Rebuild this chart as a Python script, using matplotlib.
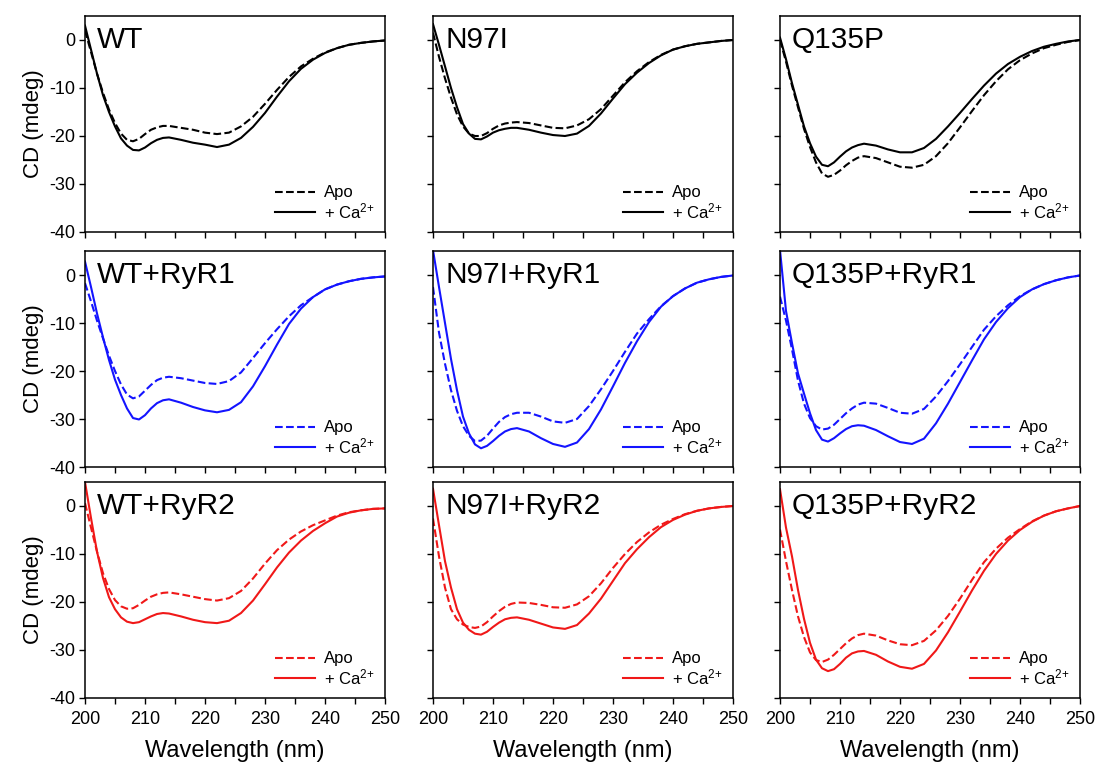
import matplotlib
matplotlib.use("Agg")
import matplotlib.pyplot as plt
from matplotlib.ticker import MultipleLocator

plt.rcParams["font.family"] = ["Liberation Sans", "DejaVu Sans"]
plt.rcParams["mathtext.default"] = "regular"
plt.rcParams["axes.unicode_minus"] = False

# wavelength grid (nm) shared by every spectrum
wl = [200, 201, 202, 203, 204, 205, 206, 207, 208, 209, 210, 211, 212, 213, 214,
      216, 218, 220, 222, 224, 226, 228, 230, 232, 234, 236, 238, 240, 242, 244,
      246, 248, 250]

# CD (mdeg), Apo (dashed) and +Ca2+ (solid)
wt_apo = [2.0, -2.5, -7.0, -11.0, -14.5, -17.3, -19.5, -20.8, -21.1, -20.6, -19.6, -18.7, -18.2, -17.9, -17.9,
          -18.3, -18.7, -19.3, -19.6, -19.3, -18.0, -16.0, -13.3, -10.4, -7.7, -5.5, -3.9, -2.6, -1.7, -1.0,
          -0.6, -0.3, -0.1]
wt_ca = [3.0, -2.0, -7.0, -11.5, -15.0, -18.0, -20.5, -22.0, -22.9, -23.0, -22.4, -21.5, -20.8, -20.4, -20.3,
         -20.8, -21.4, -21.8, -22.3, -21.8, -20.4, -18.1, -15.2, -11.8, -8.6, -6.0, -4.1, -2.7, -1.7, -1.0,
         -0.6, -0.3, -0.1]
n97i_apo = [1.5, -3.5, -8.0, -12.0, -15.5, -18.0, -19.5, -20.0, -20.0, -19.4, -18.5, -17.8, -17.4, -17.2, -17.1,
            -17.3, -17.8, -18.3, -18.4, -17.8, -16.5, -14.4, -11.6, -8.8, -6.5, -4.6, -3.1, -2.0, -1.3, -0.8,
            -0.5, -0.2, 0.0]
n97i_ca = [3.3, -1.0, -5.5, -10.0, -14.0, -17.5, -19.5, -20.6, -20.7, -20.1, -19.3, -18.8, -18.5, -18.3, -18.3,
           -18.7, -19.3, -19.8, -20.0, -19.5, -17.9, -15.3, -12.2, -9.2, -6.8, -4.8, -3.2, -2.0, -1.3, -0.8,
           -0.5, -0.2, 0.0]
q135p_apo = [0.0, -4.5, -9.5, -14.0, -18.5, -22.3, -25.5, -27.8, -28.5, -28.1, -27.2, -26.1, -25.2, -24.5, -24.2,
             -24.6, -25.5, -26.4, -26.6, -26.0, -24.2, -21.5, -18.2, -14.8, -11.5, -8.6, -6.1, -4.2, -2.8, -1.7,
             -1.0, -0.4, 0.0]
q135p_ca = [0.5, -4.0, -9.0, -13.5, -18.0, -21.5, -24.3, -26.0, -26.3, -25.5, -24.3, -23.2, -22.4, -21.9, -21.6,
            -22.0, -22.8, -23.4, -23.4, -22.5, -20.6, -18.0, -15.2, -12.3, -9.5, -7.0, -5.0, -3.5, -2.3, -1.4,
            -0.8, -0.3, 0.0]

wt_r1_apo = [-1.7, -5.5, -9.5, -13.2, -16.8, -20.0, -22.8, -24.9, -25.7, -25.3, -24.1, -22.9, -21.9, -21.4, -21.2,
             -21.5, -22.0, -22.5, -22.7, -22.1, -20.3, -17.3, -14.2, -11.3, -8.6, -6.3, -4.6, -3.0, -2.0, -1.3,
             -0.8, -0.5, -0.3]
wt_r1_ca = [2.8, -2.5, -8.0, -13.0, -17.7, -21.8, -25.0, -27.8, -29.8, -30.1, -29.2, -27.8, -26.7, -26.1, -25.9,
            -26.6, -27.5, -28.2, -28.6, -28.1, -26.5, -23.2, -19.0, -14.5, -10.2, -7.0, -4.6, -3.0, -2.0, -1.3,
            -0.8, -0.5, -0.3]
n97i_r1_apo = [-2.5, -12.0, -18.5, -24.0, -28.3, -31.5, -33.5, -34.6, -34.5, -33.5, -32.0, -30.6, -29.6, -29.0, -28.7,
               -28.7, -29.5, -30.5, -30.8, -30.0, -27.3, -23.8, -20.0, -16.0, -12.2, -9.2, -6.5, -4.4, -2.8, -1.6,
               -0.9, -0.4, -0.1]
n97i_r1_ca = [5.2, -2.5, -10.0, -17.5, -24.0, -29.5, -33.0, -35.3, -36.1, -35.6, -34.6, -33.5, -32.6, -32.1, -31.9,
              -32.6, -34.0, -35.2, -35.8, -34.9, -32.1, -28.0, -23.2, -18.3, -13.8, -9.8, -6.6, -4.4, -2.8, -1.6,
              -0.9, -0.4, -0.1]
q135p_r1_apo = [-4.5, -9.5, -15.5, -22.0, -26.8, -29.8, -31.5, -32.2, -32.0, -31.2, -30.0, -28.8, -27.8, -27.0, -26.6,
                -26.8, -27.7, -28.7, -28.9, -27.9, -25.3, -22.1, -18.6, -15.0, -11.4, -8.6, -6.3, -4.4, -3.0, -1.9,
                -1.1, -0.5, -0.1]
q135p_r1_ca = [5.2, -7.5, -14.2, -20.5, -24.7, -28.8, -32.3, -34.3, -34.7, -34.0, -33.0, -32.1, -31.5, -31.3, -31.4,
               -32.3, -33.6, -34.8, -35.2, -34.1, -30.9, -26.8, -22.3, -17.8, -13.4, -9.8, -6.9, -4.6, -3.0, -1.9,
               -1.1, -0.5, -0.1]

wt_r2_apo = [0.6, -4.5, -9.5, -14.0, -17.3, -19.6, -20.9, -21.4, -21.3, -20.6, -19.7, -18.9, -18.4, -18.1, -18.0,
             -18.4, -18.9, -19.4, -19.7, -19.2, -17.7, -15.1, -12.0, -9.2, -7.0, -5.3, -4.0, -3.0, -2.0, -1.3,
             -0.9, -0.6, -0.5]
wt_r2_ca = [5.0, -2.5, -9.5, -15.0, -19.0, -21.5, -23.2, -24.1, -24.4, -24.2, -23.6, -23.0, -22.5, -22.3, -22.4,
            -23.0, -23.7, -24.2, -24.4, -23.9, -22.3, -19.7, -16.3, -12.8, -9.7, -7.2, -5.2, -3.6, -2.2, -1.4,
            -0.9, -0.6, -0.5]
n97i_r2_apo = [-2.6, -10.5, -17.0, -21.5, -23.6, -24.7, -25.2, -25.4, -25.1, -24.2, -23.0, -21.9, -21.0, -20.4, -20.1,
               -20.2, -20.6, -21.1, -21.2, -20.5, -18.8, -16.1, -12.9, -10.0, -7.5, -5.5, -3.9, -2.7, -1.7, -1.0,
               -0.5, -0.2, 0.0]
n97i_r2_ca = [3.6, -4.0, -11.5, -17.0, -21.5, -24.3, -25.8, -26.6, -26.8, -26.2, -25.2, -24.3, -23.6, -23.3, -23.2,
              -23.7, -24.5, -25.3, -25.6, -24.8, -22.4, -19.3, -15.6, -11.9, -9.0, -6.5, -4.4, -2.9, -1.8, -1.0,
              -0.5, -0.2, 0.0]
q135p_r2_apo = [-4.9, -11.5, -17.5, -23.0, -27.3, -30.5, -32.1, -32.5, -32.0, -31.0, -29.8, -28.6, -27.6, -26.9, -26.6,
                -27.0, -28.0, -28.8, -29.0, -28.1, -25.9, -22.9, -19.3, -15.4, -11.7, -8.9, -6.6, -4.8, -3.2, -2.0,
                -1.1, -0.5, 0.0]
q135p_r2_ca = [3.5, -4.5, -10.5, -17.5, -23.5, -28.5, -32.0, -33.8, -34.4, -34.0, -32.9, -31.6, -30.7, -30.3, -30.2,
               -31.0, -32.4, -33.5, -33.9, -32.9, -30.1, -26.3, -22.0, -17.6, -13.5, -10.0, -7.2, -5.0, -3.3, -2.0,
               -1.1, -0.5, 0.0]

panel_titles = [["WT", "N97I", "Q135P"],
                ["WT+RyR1", "N97I+RyR1", "Q135P+RyR1"],
                ["WT+RyR2", "N97I+RyR2", "Q135P+RyR2"]]
panel_data = [[(wt_apo, wt_ca), (n97i_apo, n97i_ca), (q135p_apo, q135p_ca)],
              [(wt_r1_apo, wt_r1_ca), (n97i_r1_apo, n97i_r1_ca), (q135p_r1_apo, q135p_r1_ca)],
              [(wt_r2_apo, wt_r2_ca), (n97i_r2_apo, n97i_r2_ca), (q135p_r2_apo, q135p_r2_ca)]]
row_colors = ["black", "#1414ff", "#f01818"]

W, H = 1097, 765
fig = plt.figure(figsize=(W / 100, H / 100), dpi=100)

col_left = [85, 433, 780]
col_width = 300
row_top = [16, 251, 482]
row_height = 216

for r in range(3):
    for c in range(3):
        ax = fig.add_axes([col_left[c] / W, 1 - (row_top[r] + row_height) / H,
                           col_width / W, row_height / H])
        apo, ca = panel_data[r][c]
        color = row_colors[r]
        ax.plot(wl, apo, color=color, lw=1.5, ls="--", label="Apo")
        ax.plot(wl, ca, color=color, lw=1.5, ls="-", label="+ Ca$^{2{+}}$")
        ax.set_xlim(200, 250)
        ax.set_ylim(-40, 5)
        ax.xaxis.set_major_locator(MultipleLocator(10))
        ax.xaxis.set_minor_locator(MultipleLocator(5))
        ax.set_yticks([0, -10, -20, -30, -40])
        ax.tick_params(which="both", direction="out", length=4, width=1.0,
                       labelsize=13, pad=3)
        for sp in ax.spines.values():
            sp.set_linewidth(1.1)
        if r < 2:
            ax.set_xticklabels([])
        else:
            ax.tick_params(axis="x", pad=5)
            ax.set_xlabel("Wavelength (nm)", fontsize=17, labelpad=9)
        if c > 0:
            ax.set_yticklabels([])
        else:
            ax.set_ylabel("CD (mdeg)", fontsize=16, labelpad=4)
        ax.text(0.04, 0.955, panel_titles[r][c], transform=ax.transAxes,
                fontsize=21.5, va="top", ha="left")
        ax.legend(loc="lower right", frameon=False, fontsize=12,
                  handlelength=2.4, handletextpad=0.55, labelspacing=0.05,
                  borderaxespad=0.25)

fig.savefig("out.png", dpi=100)
